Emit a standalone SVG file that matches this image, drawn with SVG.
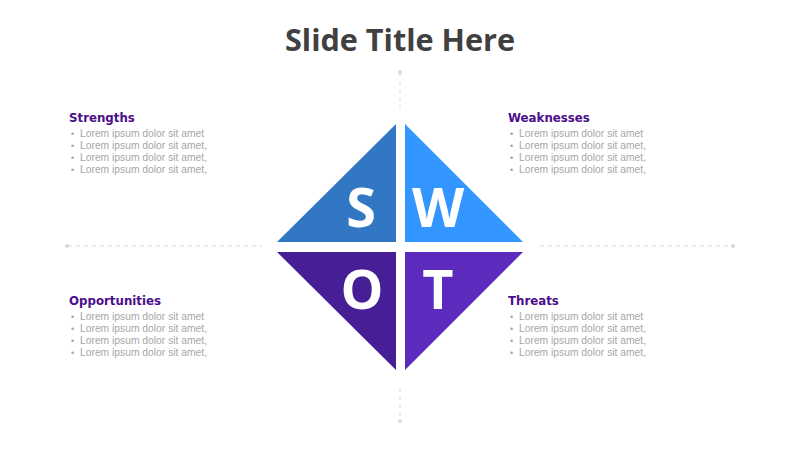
<svg xmlns="http://www.w3.org/2000/svg" width="800" height="450" viewBox="0 0 800 450">
<style>
.title{font-family:"Open Sans","Liberation Sans",sans-serif;font-weight:bold;font-size:30.6px;fill:#404040;text-anchor:middle}
.h{font-family:"DejaVu Sans","Liberation Sans",sans-serif;font-weight:bold;font-size:11.8px;fill:#4B0E8C}
.b{font-family:"Liberation Sans",sans-serif;font-size:10.3px;fill:#A6A6A6}
.bu{font-size:9px}
.L{font-family:"Open Sans","Liberation Sans",sans-serif;font-weight:bold;font-size:54px;fill:#FFFFFF;text-anchor:middle}
.d{stroke:#D9D9D9;stroke-width:1;stroke-dasharray:4,4;fill:none}
.dot{fill:#D9D9D9}
</style>
<rect width="800" height="450" fill="#FFFFFF"/>
<text class="title" x="400" y="51">Slide Title Here</text>
<g id="connectors">
<line class="d" x1="400" y1="73" x2="400" y2="108"/>
<circle class="dot" cx="400" cy="72" r="2"/>
<line class="d" x1="400" y1="388" x2="400" y2="420"/>
<circle class="dot" cx="400" cy="421" r="2"/>
<line class="d" x1="68" y1="246" x2="262" y2="246"/>
<circle class="dot" cx="67" cy="246" r="2"/>
<line class="d" x1="540" y1="246" x2="732" y2="246"/>
<circle class="dot" cx="733" cy="246" r="2"/>
</g>
<g id="S">
<polygon points="277,242 396,124 396,242" fill="#3277C4"/>
<text class="L" x="361" y="227">S</text>
</g>
<g id="W">
<polygon points="405,124 523,242 405,242" fill="#3395FF"/>
<text class="L" x="438" y="227">W</text>
</g>
<g id="O">
<polygon points="277,252 396,252 396,370" fill="#461E96"/>
<text class="L" x="362" y="309">O</text>
</g>
<g id="T">
<polygon points="405,252 523,252 405,370" fill="#5C2BBE"/>
<text class="L" x="438" y="309">T</text>
</g>
<g id="strengths">
<text class="h" x="69" y="122">Strengths</text>
<text class="b" x="71" y="136.5"><tspan class="bu">•</tspan><tspan x="80">Lorem ipsum dolor sit amet</tspan></text>
<text class="b" x="71" y="148.5"><tspan class="bu">•</tspan><tspan x="80">Lorem ipsum dolor sit amet,</tspan></text>
<text class="b" x="71" y="160.5"><tspan class="bu">•</tspan><tspan x="80">Lorem ipsum dolor sit amet,</tspan></text>
<text class="b" x="71" y="172.5"><tspan class="bu">•</tspan><tspan x="80">Lorem ipsum dolor sit amet,</tspan></text>
</g>
<g id="weaknesses">
<text class="h" x="508" y="122">Weaknesses</text>
<text class="b" x="510" y="136.5"><tspan class="bu">•</tspan><tspan x="519">Lorem ipsum dolor sit amet</tspan></text>
<text class="b" x="510" y="148.5"><tspan class="bu">•</tspan><tspan x="519">Lorem ipsum dolor sit amet,</tspan></text>
<text class="b" x="510" y="160.5"><tspan class="bu">•</tspan><tspan x="519">Lorem ipsum dolor sit amet,</tspan></text>
<text class="b" x="510" y="172.5"><tspan class="bu">•</tspan><tspan x="519">Lorem ipsum dolor sit amet,</tspan></text>
</g>
<g id="opportunities">
<text class="h" x="69" y="305">Opportunities</text>
<text class="b" x="71" y="320"><tspan class="bu">•</tspan><tspan x="80">Lorem ipsum dolor sit amet</tspan></text>
<text class="b" x="71" y="332"><tspan class="bu">•</tspan><tspan x="80">Lorem ipsum dolor sit amet,</tspan></text>
<text class="b" x="71" y="344"><tspan class="bu">•</tspan><tspan x="80">Lorem ipsum dolor sit amet,</tspan></text>
<text class="b" x="71" y="356"><tspan class="bu">•</tspan><tspan x="80">Lorem ipsum dolor sit amet,</tspan></text>
</g>
<g id="threats">
<text class="h" x="508" y="305">Threats</text>
<text class="b" x="510" y="320"><tspan class="bu">•</tspan><tspan x="519">Lorem ipsum dolor sit amet</tspan></text>
<text class="b" x="510" y="332"><tspan class="bu">•</tspan><tspan x="519">Lorem ipsum dolor sit amet,</tspan></text>
<text class="b" x="510" y="344"><tspan class="bu">•</tspan><tspan x="519">Lorem ipsum dolor sit amet,</tspan></text>
<text class="b" x="510" y="356"><tspan class="bu">•</tspan><tspan x="519">Lorem ipsum dolor sit amet,</tspan></text>
</g>
</svg>
